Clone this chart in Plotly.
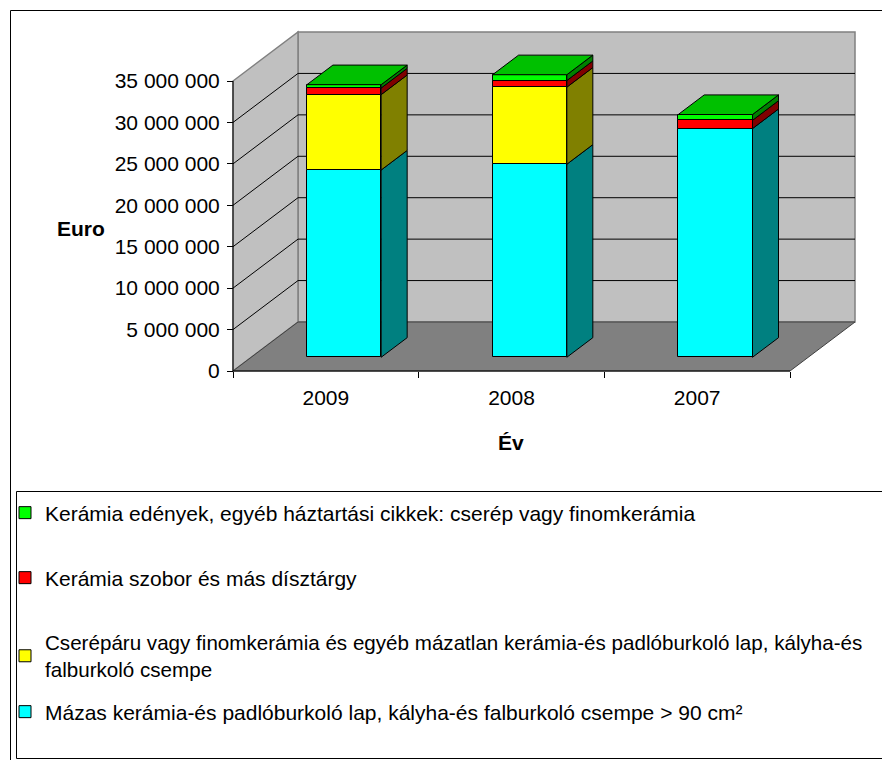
import plotly.graph_objects as go

# ---- data -------------------------------------------------------------
years = ["2009", "2008", "2007"]
series_names = [
    "Mázas kerámia-és padlóburkoló lap, kályha-és falburkoló csempe > 90 cm²",
    "Cserépáru vagy finomkerámia és egyéb mázatlan kerámia-és padlóburkoló lap, kályha-és<br>falburkoló csempe",
    "Kerámia szobor és más dísztárgy",
    "Kerámia edények, egyéb háztartási cikkek: cserép vagy finomkerámia",
]
mazas = [22.6e6, 23.3e6, 27.6e6]
cserepar = [9.1e6, 9.3e6, 0.0]
szobor = [0.8e6, 0.8e6, 1.0e6]
edenyek = [0.4e6, 0.7e6, 0.7e6]
series_values = [mazas, cserepar, szobor, edenyek]

y_ticks = list(range(0, 35_000_001, 5_000_000))

# ---- colours (front, side, top) ---------------------------------------
front_cols = ["#00FFFF", "#FFFF00", "#FF0000", "#00FF00"]
side_cols = ["#008080", "#808000", "#800000", "#008000"]
top_cols = ["#00C0C0", "#C0C000", "#C00000", "#00C000"]

# ---- geometry ---------------------------------------------------------
FIG_W, FIG_H = 882, 760
PL, PR, PT, PB = 220, 870, 25, 380          # plot area in pixels
X0_PX, Y0_PX = 233, 371                     # front corner of the floor
SX = 557 / 3                                # px per category
SY = 290 / 35e6                             # px per euro
DX = 65 / SX                                # depth offset, category units
DY = 49 / SY                                # depth offset, value units
BAR_W = 0.4
F_D, B_D = 0.28, 0.68                       # bar front / back depth fraction
YMAX = 35e6
FS = 21

x_lo = -0.5 - (X0_PX - PL) / SX
x_hi = -0.5 + (PR - X0_PX) / SX
y_lo = -(PB - Y0_PX) / SY
y_hi = (Y0_PX - PT) / SY


def px_x(p):
    return (p - PL) / (PR - PL)


def px_y(p):
    return (PB - p) / (PB - PT)


fig = go.Figure()

# front faces of the stacked columns
legend_ids = ["legend4", "legend3", "legend2", "legend"]
cum = [0.0] * len(years)
segments = []
for s, vals in enumerate(series_values):
    base = [c + F_D * DY for c in cum]
    fig.add_trace(go.Bar(
        x=[i + F_D * DX for i in range(len(years))],
        y=vals, base=base, width=BAR_W,
        name=series_names[s], legend=legend_ids[s],
        marker=dict(color=front_cols[s], line=dict(color="black", width=1)),
        hoverinfo="skip",
    ))
    for i, v in enumerate(vals):
        segments.append((s, i, cum[i], cum[i] + v))
    cum = [c + v for c, v in zip(cum, vals)]


def poly(xs, ys, color):
    fig.add_trace(go.Scatter(
        x=xs + [xs[0]], y=ys + [ys[0]], mode="lines", fill="toself",
        fillcolor=color, line=dict(color="black", width=1),
        showlegend=False, hoverinfo="skip",
    ))


# side faces
for s, i, lo, hi in segments:
    if hi - lo <= 0:
        continue
    xr = i + BAR_W / 2
    poly([xr + F_D * DX, xr + B_D * DX, xr + B_D * DX, xr + F_D * DX],
         [lo + F_D * DY, lo + B_D * DY, hi + B_D * DY, hi + F_D * DY],
         side_cols[s])

# top faces
for i in range(len(years)):
    top_s = max(s for s in range(len(series_values)) if series_values[s][i] > 0)
    t = cum[i]
    xl, xr = i - BAR_W / 2, i + BAR_W / 2
    poly([xl + F_D * DX, xr + F_D * DX, xr + B_D * DX, xl + B_D * DX],
         [t + F_D * DY, t + F_D * DY, t + B_D * DY, t + B_D * DY],
         top_cols[top_s])

# ---- walls, floor and gridlines ---------------------------------------
n = len(years)
xa, xb = -0.5, n - 0.5
shapes = []


def path_shape(pts, fill, line_col, width=1):
    d = "M " + " L ".join(f"{x},{y}" for x, y in pts) + " Z"
    return dict(type="path", path=d, xref="x", yref="y", fillcolor=fill,
                line=dict(color=line_col, width=width), layer="below")


shapes.append(path_shape([(xa + DX, DY), (xb + DX, DY), (xb + DX, YMAX + DY),
                          (xa + DX, YMAX + DY)], "#C0C0C0", "#808080", 1.5))
shapes.append(path_shape([(xa, 0), (xa + DX, DY), (xa + DX, YMAX + DY),
                          (xa, YMAX)], "#C0C0C0", "#808080", 1.5))
shapes.append(path_shape([(xa, 0), (xb, 0), (xb + DX, DY), (xa + DX, DY)],
                         "#808080", "#404040", 1))
for v in y_ticks[1:-1]:
    shapes.append(dict(type="line", xref="x", yref="y", layer="below",
                       x0=xa + DX, x1=xb + DX, y0=v + DY, y1=v + DY,
                       line=dict(color="black", width=1)))
    shapes.append(dict(type="line", xref="x", yref="y", layer="below",
                       x0=xa, x1=xa + DX, y0=v, y1=v + DY,
                       line=dict(color="black", width=1)))
# axis lines on the front plane
shapes.append(dict(type="line", xref="x", yref="y", x0=xa, x1=xa, y0=0, y1=YMAX,
                   line=dict(color="black", width=1)))
shapes.append(dict(type="line", xref="x", yref="y", x0=xa, x1=xb, y0=0, y1=0,
                   line=dict(color="black", width=1)))

# chart frame and legend box
shapes.append(dict(type="rect", xref="paper", yref="paper",
                   x0=px_x(10.5), x1=px_x(900), y0=px_y(10.5), y1=px_y(800),
                   line=dict(color="black", width=1)))
shapes.append(dict(type="rect", xref="paper", yref="paper",
                   x0=px_x(16.5), x1=px_x(900), y0=px_y(491.5), y1=px_y(758.5),
                   line=dict(color="black", width=1)))

FONT = "Liberation Sans, Arial, sans-serif"

annotations = [
    dict(text="<b>Euro</b>", x=px_x(81), y=px_y(228), xref="paper", yref="paper",
         xanchor="center", yanchor="middle",
         showarrow=False, font=dict(size=FS, family=FONT, color="black")),
    dict(text="<b>Év</b>", x=px_x(511), y=px_y(442), xref="paper", yref="paper",
         xanchor="center", yanchor="middle",
         showarrow=False, font=dict(size=FS, family=FONT, color="black")),
]

legend_y_px = {"legend": 513, "legend2": 578, "legend3": 656, "legend4": 712}
legend_fs = {"legend": FS, "legend2": FS, "legend3": 20.6, "legend4": FS}
legend_cfg = {}
for lid, ypx in legend_y_px.items():
    legend_cfg[lid] = dict(
        x=px_x(5), y=px_y(ypx), xanchor="left", yanchor="middle",
        bgcolor="rgba(0,0,0,0)", borderwidth=0,
        font=dict(size=legend_fs[lid], family=FONT, color="black"),
    )

fig.update_layout(
    width=FIG_W, height=FIG_H,
    margin=dict(l=PL, r=FIG_W - PR, t=PT, b=FIG_H - PB, pad=0, autoexpand=False),
    paper_bgcolor="white", plot_bgcolor="rgba(0,0,0,0)",
    barmode="overlay", bargap=0,
    font=dict(family=FONT, size=FS, color="black"),
    shapes=shapes, annotations=annotations,
    showlegend=True,
    xaxis=dict(
        range=[x_lo, x_hi], showgrid=False, zeroline=False, showline=False,
        tickvals=list(range(n)), ticktext=years, ticks="",
        anchor="free", position=px_y(Y0_PX),
        ticklabelstandoff=12,
        minor=dict(tickvals=[k - 0.5 for k in range(n + 1)], ticks="outside",
                   ticklen=6, tickcolor="black", showgrid=False),
        tickfont=dict(size=FS, family=FONT, color="black"),
        fixedrange=True,
    ),
    yaxis=dict(
        range=[y_lo, y_hi], showgrid=False, zeroline=False, showline=False,
        tickvals=y_ticks, ticktext=[f"{v:,}".replace(",", " ") for v in y_ticks],
        ticks="outside", ticklen=6, tickcolor="black",
        anchor="free", position=px_x(X0_PX),
        ticklabelstandoff=3,
        tickfont=dict(size=FS, family=FONT, color="black"),
        fixedrange=True,
    ),
    **legend_cfg,
)

fig.write_html("out.html")
